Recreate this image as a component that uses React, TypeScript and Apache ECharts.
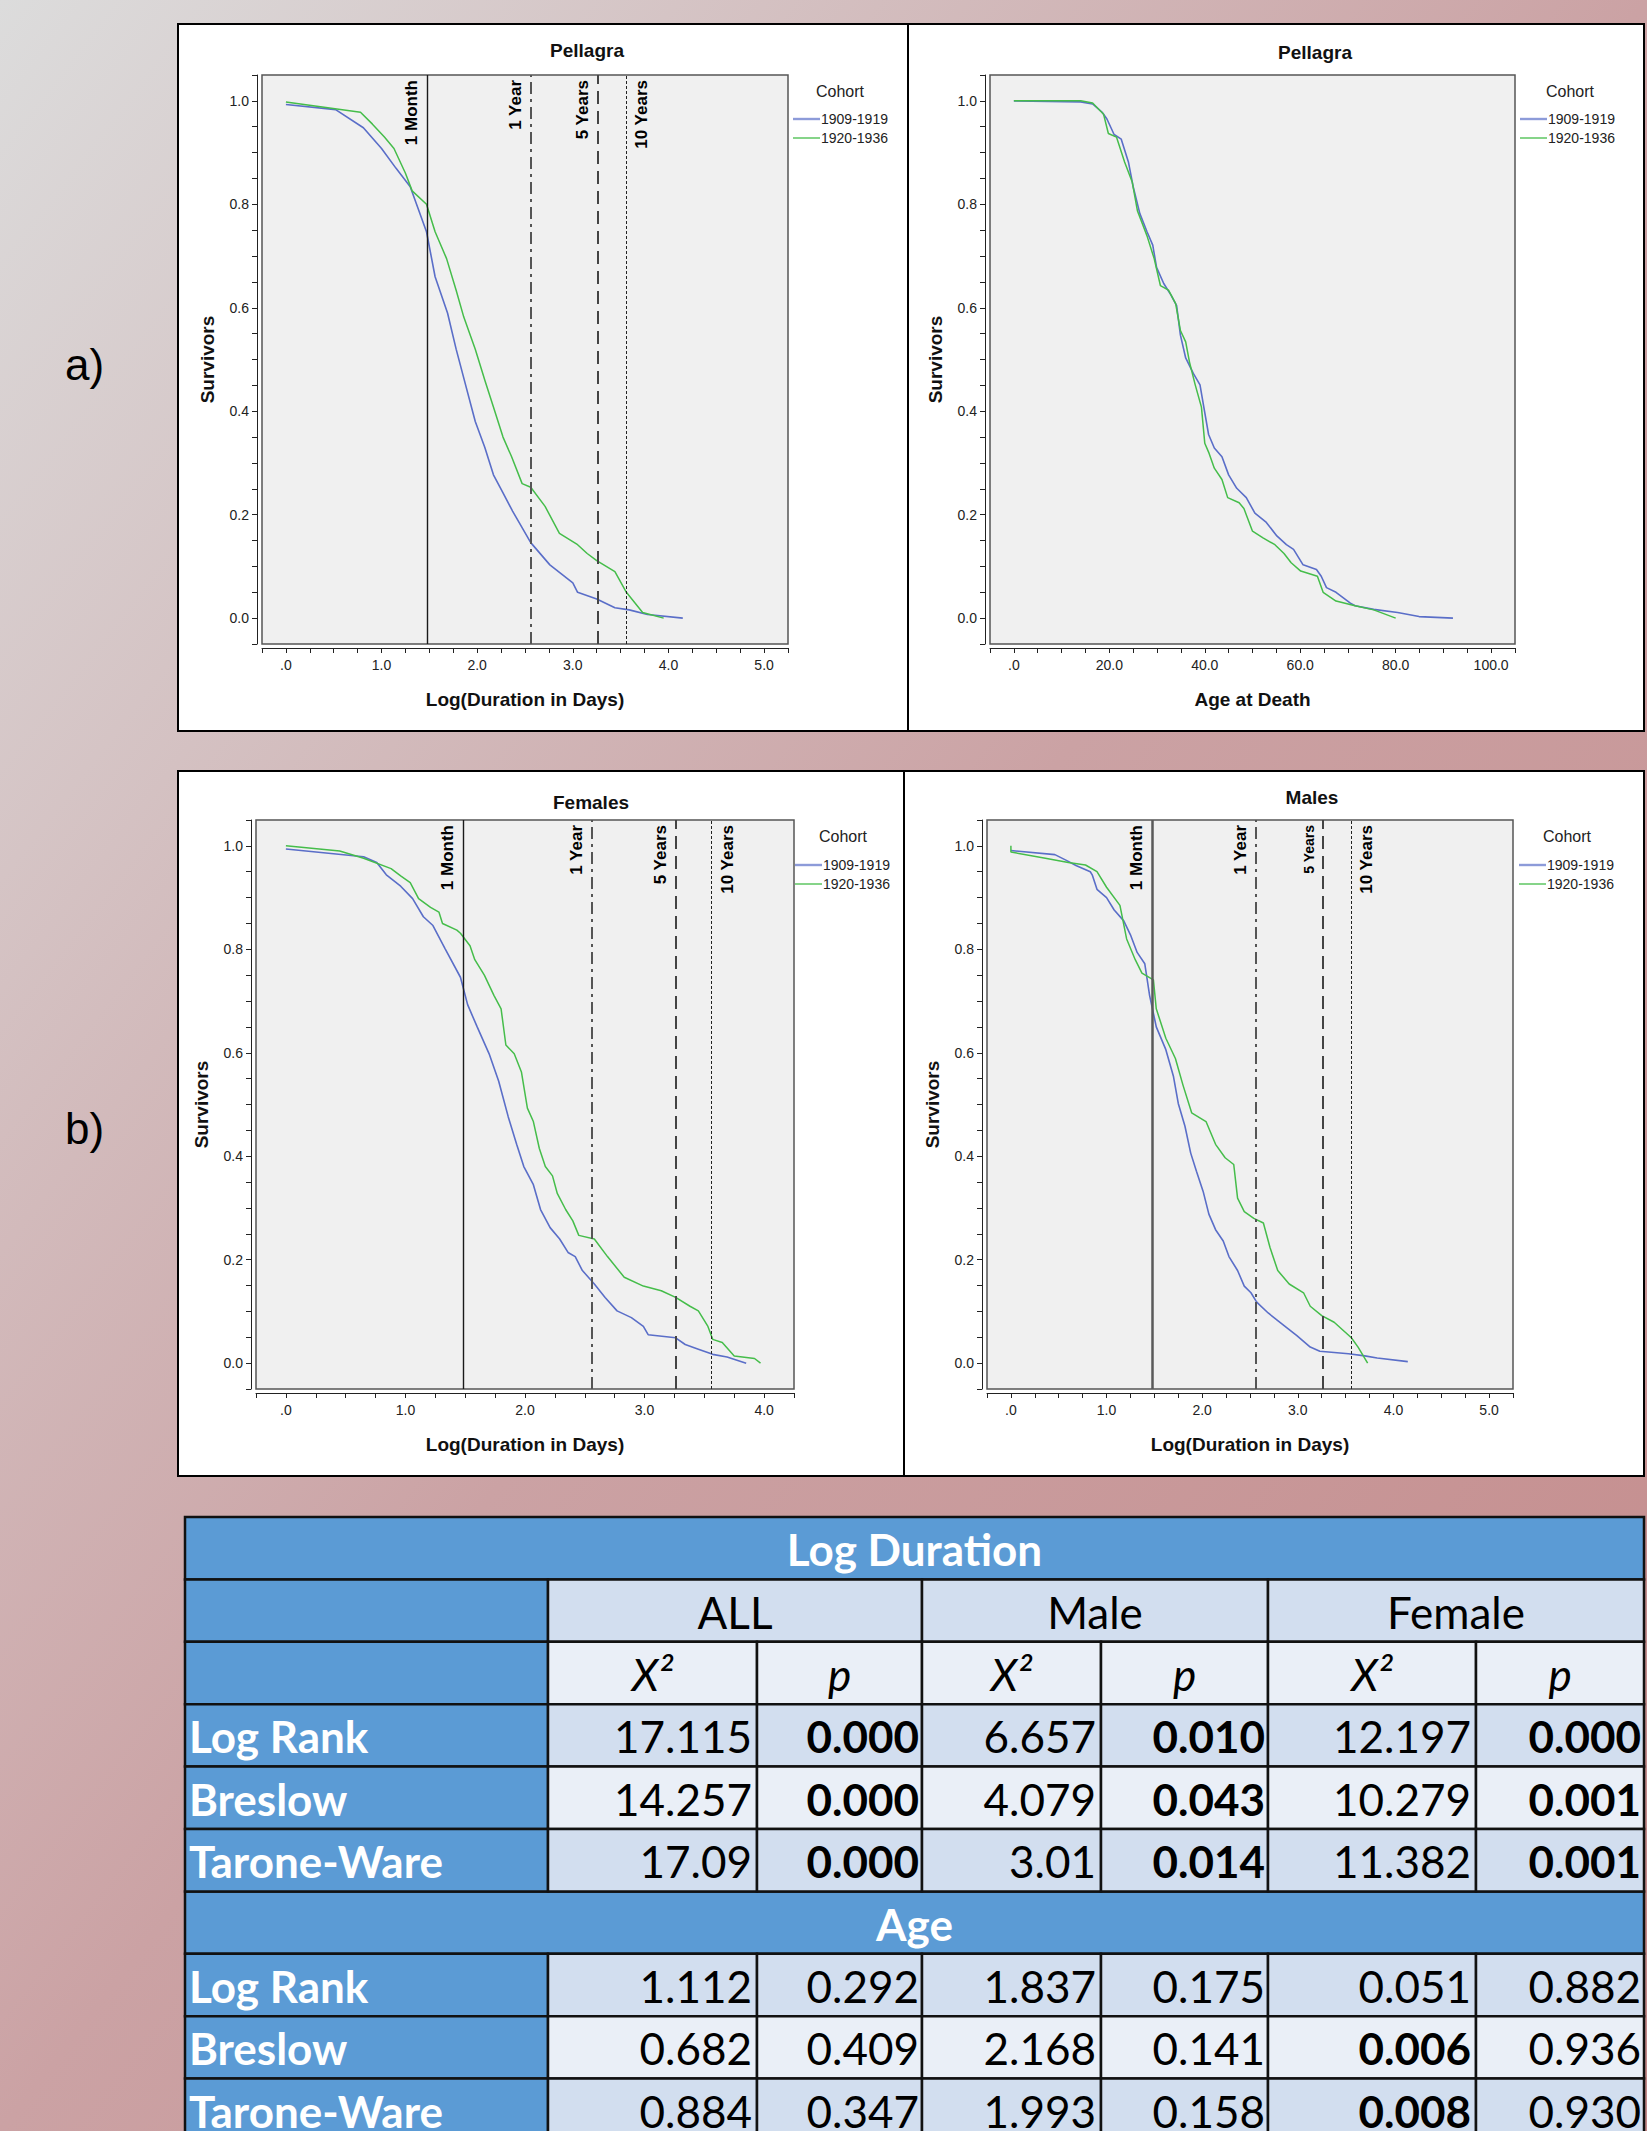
import React, { useEffect, useRef } from 'react';
import * as echarts from 'echarts';

// ---------- DATA ----------
const cohorts = ['1909-1919', '1920-1936'];
const refLabels = ['1 Month', '1 Year', '5 Years', '10 Years'];
const refLogDays = [1.477, 2.562, 3.262, 3.563];

// a) Pellagra, Log(Duration in Days)
const pelDurX1 = [0, 0.52, 0.81, 1.0, 1.15, 1.3, 1.47, 1.56, 1.69, 1.78, 1.88, 1.98, 2.08, 2.17, 2.27, 2.37, 2.56, 2.76, 3.0, 3.05, 3.25, 3.44, 3.59, 3.78, 4.15];
const pelDurY1 = [0.993, 0.983, 0.948, 0.908, 0.87, 0.834, 0.747, 0.66, 0.59, 0.52, 0.45, 0.38, 0.33, 0.277, 0.242, 0.207, 0.146, 0.103, 0.068, 0.05, 0.037, 0.02, 0.016, 0.007, 0.0];
const pelDurX2 = [0, 0.78, 0.905, 1.03, 1.13, 1.25, 1.32, 1.47, 1.56, 1.68, 1.78, 1.86, 1.98, 2.08, 2.17, 2.27, 2.36, 2.47, 2.56, 2.71, 2.86, 3.05, 3.15, 3.25, 3.44, 3.56, 3.73, 3.95];
const pelDurY2 = [0.998, 0.978, 0.955, 0.93, 0.908, 0.86, 0.826, 0.8, 0.747, 0.695, 0.634, 0.582, 0.52, 0.46, 0.408, 0.35, 0.312, 0.26, 0.253, 0.216, 0.164, 0.142, 0.125, 0.111, 0.09, 0.05, 0.011, 0.0];

// a) Pellagra, Age at Death
const pelAgeX1 = [0, 14, 16.5, 18.5, 19.5, 21, 22.5, 24, 25, 26.4, 27.9, 29.1, 29.9, 31.4, 32.9, 34.1, 34.9, 36, 37.6, 39, 39.8, 40.8, 42, 43.6, 45, 46.7, 48.7, 50.5, 52.9, 55.1, 57.1, 58.6, 60.6, 63.4, 64.4, 65.5, 67.5, 70.5, 71.5, 75.4, 80.4, 84.9, 92];
const pelAgeY1 = [1.0, 0.998, 0.994, 0.978, 0.965, 0.935, 0.926, 0.882, 0.834, 0.782, 0.747, 0.721, 0.678, 0.647, 0.625, 0.604, 0.547, 0.503, 0.473, 0.451, 0.408, 0.355, 0.329, 0.312, 0.277, 0.251, 0.233, 0.203, 0.185, 0.159, 0.142, 0.133, 0.103, 0.094, 0.081, 0.059, 0.05, 0.029, 0.024, 0.017, 0.011, 0.003, 0.0];
const pelAgeX2 = [0, 14, 16.5, 18.8, 19.8, 21.5, 23.2, 24.8, 25.9, 27.9, 29.4, 30.7, 32.4, 33.9, 34.9, 36, 36.8, 38, 39.3, 40, 40.8, 42, 43.6, 44.8, 47.2, 48.2, 50, 52.2, 54.7, 56.6, 58.1, 60.1, 63.6, 64.8, 67.5, 71.5, 75.4, 80];
const pelAgeY2 = [1.0, 1.0, 0.996, 0.974, 0.937, 0.93, 0.882, 0.843, 0.787, 0.739, 0.695, 0.643, 0.634, 0.608, 0.556, 0.534, 0.495, 0.451, 0.408, 0.338, 0.321, 0.29, 0.268, 0.233, 0.223, 0.212, 0.168, 0.155, 0.142, 0.125, 0.107, 0.091, 0.081, 0.05, 0.033, 0.024, 0.016, 0.0];

// b) Females, Log(Duration in Days)
const femX1 = [0, 0.65, 0.76, 0.84, 0.96, 1.06, 1.15, 1.23, 1.33, 1.46, 1.52, 1.6, 1.7, 1.78, 1.86, 1.93, 1.99, 2.07, 2.13, 2.21, 2.29, 2.36, 2.42, 2.48, 2.58, 2.67, 2.77, 2.89, 2.99, 3.03, 3.26, 3.34, 3.45, 3.57, 3.69, 3.85];
const femY1 = [0.994, 0.979, 0.968, 0.944, 0.922, 0.898, 0.863, 0.846, 0.802, 0.746, 0.693, 0.65, 0.598, 0.545, 0.476, 0.423, 0.38, 0.345, 0.297, 0.262, 0.24, 0.214, 0.206, 0.179, 0.153, 0.127, 0.101, 0.088, 0.071, 0.055, 0.049, 0.036, 0.027, 0.017, 0.012, 0.0];
const femX2 = [0, 0.45, 0.65, 0.88, 0.96, 1.04, 1.11, 1.21, 1.28, 1.31, 1.43, 1.46, 1.54, 1.58, 1.66, 1.74, 1.8, 1.84, 1.91, 1.97, 2.02, 2.07, 2.12, 2.17, 2.23, 2.27, 2.34, 2.4, 2.45, 2.58, 2.69, 2.83, 2.99, 3.14, 3.26, 3.38, 3.45, 3.53, 3.57, 3.65, 3.75, 3.92, 3.97];
const femY2 = [1.0, 0.99, 0.976, 0.956, 0.942, 0.929, 0.898, 0.881, 0.872, 0.85, 0.837, 0.831, 0.807, 0.78, 0.75, 0.711, 0.685, 0.615, 0.598, 0.563, 0.493, 0.467, 0.415, 0.38, 0.362, 0.328, 0.297, 0.275, 0.247, 0.24, 0.206, 0.166, 0.149, 0.14, 0.127, 0.11, 0.101, 0.071, 0.046, 0.04, 0.014, 0.009, 0.0];

// b) Males, Log(Duration in Days)
const maleX1 = [0, 0.46, 0.58, 0.68, 0.83, 0.85, 0.9, 1.0, 1.08, 1.18, 1.25, 1.32, 1.4, 1.45, 1.52, 1.62, 1.7, 1.75, 1.82, 1.88, 1.94, 2.01, 2.07, 2.14, 2.22, 2.28, 2.37, 2.44, 2.51, 2.57, 2.69, 2.84, 2.99, 3.13, 3.23, 3.53, 3.7, 3.83, 4.15];
const maleY1 = [0.991, 0.983, 0.972, 0.962, 0.95, 0.944, 0.916, 0.9, 0.876, 0.855, 0.828, 0.794, 0.772, 0.711, 0.65, 0.606, 0.554, 0.502, 0.458, 0.406, 0.371, 0.332, 0.288, 0.258, 0.236, 0.206, 0.179, 0.149, 0.136, 0.118, 0.097, 0.075, 0.053, 0.031, 0.023, 0.018, 0.014, 0.01, 0.003];
const maleX2 = [0, 0, 0.36, 0.6, 0.78, 0.9, 1.0, 1.14, 1.21, 1.3, 1.37, 1.49, 1.52, 1.62, 1.72, 1.8, 1.89, 2.04, 2.14, 2.24, 2.33, 2.37, 2.44, 2.54, 2.64, 2.71, 2.79, 2.91, 3.06, 3.13, 3.25, 3.38, 3.56, 3.63, 3.73];
const maleY2 = [1.0, 0.988, 0.976, 0.968, 0.963, 0.95, 0.92, 0.885, 0.82, 0.78, 0.754, 0.741, 0.685, 0.628, 0.589, 0.537, 0.484, 0.467, 0.423, 0.397, 0.384, 0.319, 0.293, 0.28, 0.271, 0.223, 0.179, 0.153, 0.136, 0.11, 0.092, 0.079, 0.049, 0.031, 0.0];

// Table
const tableGroups = ['ALL', 'Male', 'Female'];
const tableTests = ['Log Rank', 'Breslow', 'Tarone-Ware'];
const sectionTitles = ['Log Duration', 'Age'];
const durChi = [[17.115, 6.657, 12.197], [14.257, 4.079, 10.279], [17.09, 3.01, 11.382]];
const durP = [[0.0, 0.01, 0.0], [0.0, 0.043, 0.001], [0.0, 0.014, 0.001]];
const ageChi = [[1.112, 1.837, 0.051], [0.682, 2.168, 0.006], [0.884, 1.993, 0.008]];
const ageP = [[0.292, 0.175, 0.882], [0.409, 0.141, 0.936], [0.347, 0.158, 0.93]];
const durChiBold = [[false, false, false], [false, false, false], [false, false, false]];
const durPBold = [[true, true, true], [true, true, true], [true, true, true]];
const ageChiBold = [[false, false, false], [false, false, true], [false, false, true]];
const agePBold = [[false, false, false], [false, false, false], [false, false, false]];

// ---------- STYLE / LAYOUT ----------
const BLUE = '#5a6ec8';
const GREEN = '#45bd4a';
const FONT = 'Liberation Sans';
const TFONT = 'Lato';

const panels = [
  { title: 'Pellagra', xName: 'Log(Duration in Days)', grid: { left: 262, top: 75, width: 526, height: 569 }, xMin: -0.25, xMax: 5.25, xInt: 0.25, every: 1,
    s1: [pelDurX1, pelDurY1], s2: [pelDurX2, pelDurY2], ref: true, male: false,
    legX: 793, legY: 119, cohX: 840, cohY: 91, tX: 587, tY: 50 },
  { title: 'Pellagra', xName: 'Age at Death', grid: { left: 990, top: 75, width: 525, height: 569 }, xMin: -5, xMax: 105, xInt: 5, every: 20,
    s1: [pelAgeX1, pelAgeY1], s2: [pelAgeX2, pelAgeY2], ref: false, male: false,
    legX: 1520, legY: 119, cohX: 1570, cohY: 91, tX: 1315, tY: 52 },
  { title: 'Females', xName: 'Log(Duration in Days)', grid: { left: 256, top: 820, width: 538, height: 569 }, xMin: -0.25, xMax: 4.25, xInt: 0.25, every: 1,
    s1: [femX1, femY1], s2: [femX2, femY2], ref: true, male: false,
    legX: 795, legY: 865, cohX: 843, cohY: 836, tX: 591, tY: 802 },
  { title: 'Males', xName: 'Log(Duration in Days)', grid: { left: 987, top: 820, width: 526, height: 569 }, xMin: -0.25, xMax: 5.25, xInt: 0.25, every: 1,
    s1: [maleX1, maleY1], s2: [maleX2, maleY2], ref: true, male: true,
    legX: 1519, legY: 865, cohX: 1567, cohY: 836, tX: 1312, tY: 797 },
];

const boxes = [
  [178, 24, 730, 707],
  [908, 24, 736, 707],
  [178, 771, 726, 705],
  [904, 771, 740, 705],
];

const isMult = (v: number, m: number) => Math.abs(v / m - Math.round(v / m)) < 1e-6;

function refMarkLine(male: boolean) {
  const styles: any[] = [
    { color: male ? '#5a5a5a' : '#1a1a1a', width: male ? 2.5 : 1.4, type: 'solid' },
    { color: '#555', width: 2, type: [12, 5, 3, 5] },
    { color: '#444', width: 2, type: [13, 7] },
    { color: '#222', width: 1, type: [3, 2] },
  ];
  return {
    silent: true,
    symbol: ['none', 'none'],
    animation: false,
    data: refLogDays.map((v, i) => ({
      xAxis: v,
      lineStyle: styles[i],
      label: {
        show: true,
        formatter: refLabels[i],
        position: i === 3 ? 'insideEndBottom' : 'insideEndTop',
        distance: [5, 7],
        color: '#000',
        fontWeight: 'bold',
        fontSize: male && i === 2 ? 14 : 17,
        fontFamily: FONT,
      },
    })),
  };
}

function buildOption() {
  const grids: any[] = [];
  const xAxes: any[] = [];
  const yAxes: any[] = [];
  const series: any[] = [];
  const graphics: any[] = [];

  // page background
  graphics.push({
    type: 'rect', z: -20, silent: true,
    shape: { x: 0, y: 0, width: 1647, height: 2131 },
    style: {
      fill: new echarts.graphic.LinearGradient(0, 0, 1, 1, [
        { offset: 0, color: '#dcdcdc' },
        { offset: 0.5, color: '#cba2a4' },
        { offset: 1, color: '#c48a8a' },
      ]),
    },
  });
  boxes.forEach((b) => {
    graphics.push({
      type: 'rect', z: -10, silent: true,
      shape: { x: b[0], y: b[1], width: b[2], height: b[3] },
      style: { fill: '#ffffff', stroke: '#000', lineWidth: 2 },
    });
  });
  graphics.push({ type: 'text', z: 5, x: 65, y: 364, style: { text: 'a)', fill: '#000', font: '44px "Liberation Sans"', textVerticalAlign: 'middle', verticalAlign: 'middle' } });
  graphics.push({ type: 'text', z: 5, x: 65, y: 1128, style: { text: 'b)', fill: '#000', font: '44px "Liberation Sans"', textVerticalAlign: 'middle', verticalAlign: 'middle' } });

  panels.forEach((p, i) => {
    grids.push({ ...p.grid, show: true, backgroundColor: '#f0f0f0', borderColor: '#555', borderWidth: 1.5, z: 0 });
    xAxes.push({
      type: 'value', gridIndex: i, min: p.xMin, max: p.xMax, interval: p.xInt, offset: 4,
      axisLine: { show: true, onZero: false, lineStyle: { color: '#222', width: 1 } },
      axisTick: { show: true, length: 5, lineStyle: { color: '#222', width: 1 } },
      splitLine: { show: false },
      axisLabel: {
        fontSize: 14, color: '#222', margin: 10, fontFamily: FONT,
        formatter: (v: number) => (isMult(v, p.every) ? (Math.abs(v) < 1e-9 ? '.0' : v.toFixed(1)) : ''),
      },
      name: p.xName, nameLocation: 'middle', nameGap: 42,
      nameTextStyle: { fontSize: 19, fontWeight: 'bold', color: '#111', fontFamily: FONT },
    });
    yAxes.push({
      type: 'value', gridIndex: i, min: -0.05, max: 1.05, interval: 0.05, offset: 5,
      axisLine: { show: true, onZero: false, lineStyle: { color: '#222', width: 1 } },
      axisTick: { show: true, length: 5, lineStyle: { color: '#222', width: 1 } },
      splitLine: { show: false },
      axisLabel: {
        fontSize: 14, color: '#222', margin: 8, fontFamily: FONT,
        formatter: (v: number) => (isMult(v, 0.2) && v > -0.01 ? v.toFixed(1) : ''),
      },
      name: 'Survivors', nameLocation: 'middle', nameGap: 40,
      nameTextStyle: { fontSize: 19, fontWeight: 'bold', color: '#111', fontFamily: FONT },
    });
    const s1: any = {
      type: 'line', name: cohorts[0], xAxisIndex: i, yAxisIndex: i, symbol: 'none', showSymbol: false,
      data: p.s1[0].map((x, k) => [x, p.s1[1][k]]),
      lineStyle: { color: BLUE, width: 1.6 }, itemStyle: { color: BLUE }, z: 3,
    };
    if (p.ref) s1.markLine = refMarkLine(p.male);
    series.push(s1);
    series.push({
      type: 'line', name: cohorts[1], xAxisIndex: i, yAxisIndex: i, symbol: 'none', showSymbol: false,
      data: p.s2[0].map((x, k) => [x, p.s2[1][k]]),
      lineStyle: { color: GREEN, width: 1.5 }, itemStyle: { color: GREEN }, z: 4,
    });

    // title
    graphics.push({ type: 'text', z: 5, x: p.tX, y: p.tY, style: { text: p.title, fill: '#111', font: 'bold 19px "Liberation Sans"', textAlign: 'center', align: 'center', textVerticalAlign: 'middle', verticalAlign: 'middle' } });
    // legend
    graphics.push({ type: 'text', z: 5, x: p.cohX, y: p.cohY, style: { text: 'Cohort', fill: '#222', font: '16px "Liberation Sans"', textAlign: 'center', align: 'center', textVerticalAlign: 'middle', verticalAlign: 'middle' } });
    [0, 1].forEach((k) => {
      const y = p.legY + k * 19;
      graphics.push({ type: 'line', z: 5, silent: true, shape: { x1: p.legX, y1: y, x2: p.legX + 27, y2: y }, style: { stroke: k === 0 ? '#8d9bd9' : GREEN, lineWidth: k === 0 ? 2.4 : 1.3 } });
      graphics.push({ type: 'text', z: 5, x: p.legX + 28, y, style: { text: cohorts[k], fill: '#222', font: '14px "Liberation Sans"', textAlign: 'left', align: 'left', textVerticalAlign: 'middle', verticalAlign: 'middle' } });
    });
  });

  // ---------- TABLE ----------
  const colE = [185, 548, 757, 922, 1101, 1268, 1476, 1644];
  const rowH = 62.4;
  const top0 = 1517;
  const rt = (r: number) => top0 + r * rowH;
  const HB = '#5b9bd5';
  const DARK = '#d2deef';
  const LIGHT = '#eaeff7';
  const cell = (x1: number, x2: number, r: number, fill: string) => graphics.push({
    type: 'rect', z: 6, silent: true,
    shape: { x: x1, y: rt(r), width: x2 - x1, height: rowH },
    style: { fill, stroke: '#111', lineWidth: 2.5 },
  });
  const txt = (t: string, x: number, r: number, align: string, weight: string, color: string, italic = false) => graphics.push({
    type: 'text', z: 7, silent: true, x, y: rt(r) + rowH / 2 + 1,
    style: { text: t, fill: color, font: `${italic ? 'italic ' : ''}${weight} 44px ${TFONT}`, textAlign: align, align, textVerticalAlign: 'middle', verticalAlign: 'middle' },
  });

  // section header rows
  const sectionRows = [0, 6];
  sectionRows.forEach((r, si) => {
    cell(colE[0], colE[7], r, HB);
    txt(sectionTitles[si], (colE[0] + colE[7]) / 2, r, 'center', 'bold', '#ffffff');
  });
  // group header row
  cell(colE[0], colE[1], 1, HB);
  tableGroups.forEach((g, gi) => {
    cell(colE[1 + gi * 2], colE[3 + gi * 2], 1, DARK);
    txt(g, (colE[1 + gi * 2] + colE[3 + gi * 2]) / 2, 1, 'center', 'normal', '#000');
  });
  // X2 / p row
  cell(colE[0], colE[1], 2, HB);
  for (let c = 0; c < 6; c++) {
    cell(colE[1 + c], colE[2 + c], 2, LIGHT);
    txt(c % 2 === 0 ? 'X²' : 'p', (colE[1 + c] + colE[2 + c]) / 2, 2, 'center', 'normal', '#000', true);
  }
  // data rows
  const blocks = [
    { start: 3, chi: durChi, p: durP, chiB: durChiBold, pB: durPBold },
    { start: 7, chi: ageChi, p: ageP, chiB: ageChiBold, pB: agePBold },
  ];
  blocks.forEach((b) => {
    tableTests.forEach((t, ti) => {
      const r = b.start + ti;
      const fill = ti % 2 === 0 ? DARK : LIGHT;
      cell(colE[0], colE[1], r, HB);
      txt(t, colE[0] + 4, r, 'left', 'bold', '#ffffff');
      for (let g = 0; g < 3; g++) {
        cell(colE[1 + g * 2], colE[2 + g * 2], r, fill);
        cell(colE[2 + g * 2], colE[3 + g * 2], r, fill);
        txt(String(b.chi[ti][g]), colE[2 + g * 2] - 5, r, 'right', b.chiB[ti][g] ? 'bold' : 'normal', '#000');
        txt(b.p[ti][g].toFixed(3), colE[3 + g * 2] - 3, r, 'right', b.pB[ti][g] ? 'bold' : 'normal', '#000');
      }
    });
  });

  return {
    animation: false,
    backgroundColor: 'transparent',
    grid: grids,
    xAxis: xAxes,
    yAxis: yAxes,
    series,
    graphic: { elements: graphics },
  };
}

export default function App() {
  const ref = useRef<HTMLDivElement>(null);
  useEffect(() => {
    if (!ref.current) return;
    const chart = echarts.init(ref.current, undefined, { renderer: 'svg' });
    chart.setOption(buildOption() as any);
    return () => chart.dispose();
  }, []);
  return <div ref={ref} style={{ position: 'absolute', left: 0, top: 0, width: 1647, height: 2131, overflow: 'hidden' }} />;
}
